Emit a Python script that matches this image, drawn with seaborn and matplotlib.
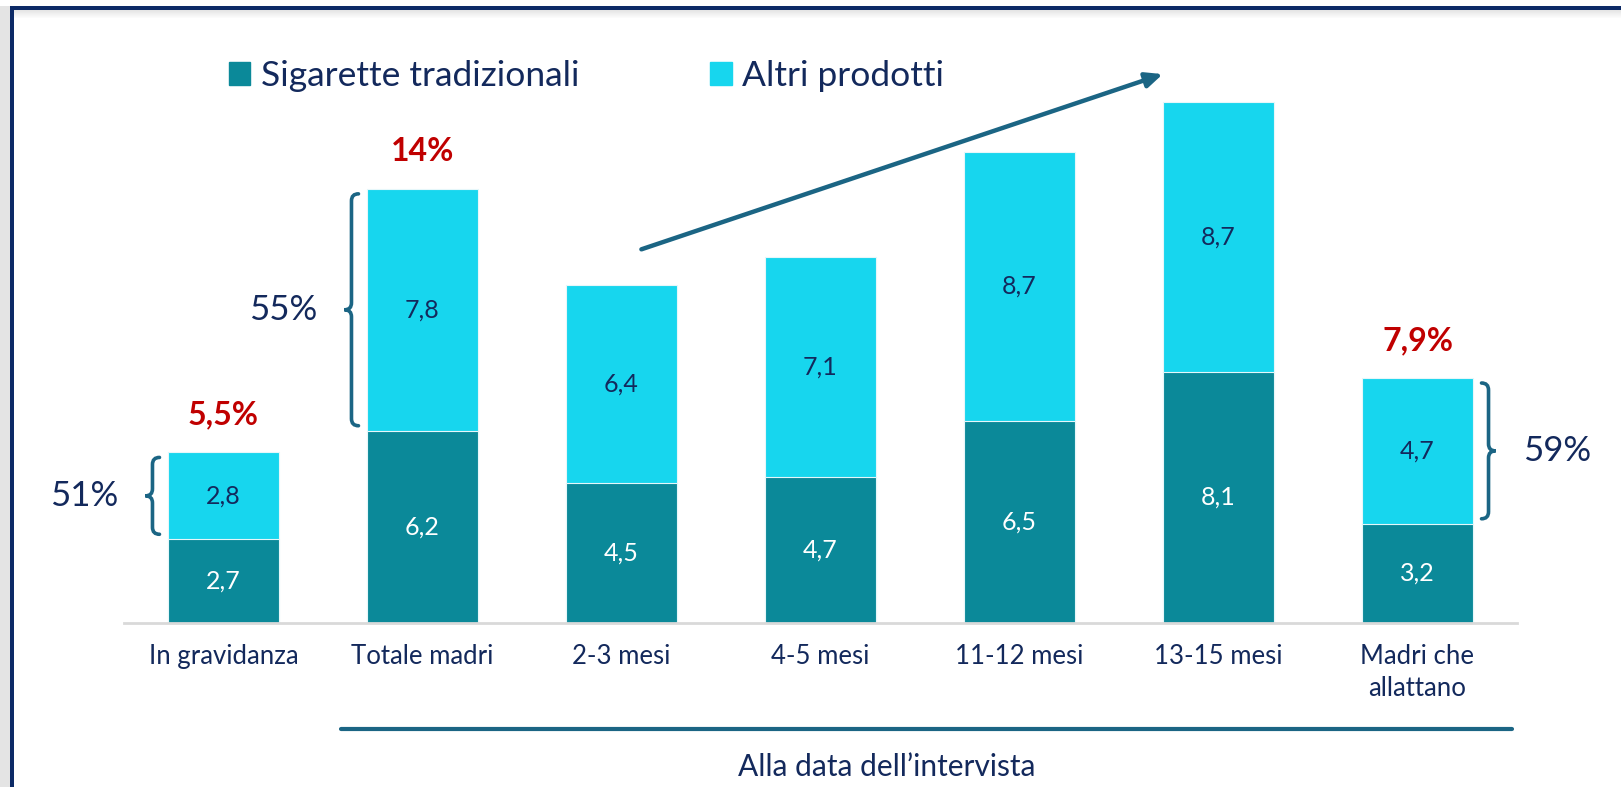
import numpy as np
import pandas as pd
import matplotlib
matplotlib.use("Agg")
import matplotlib.pyplot as plt
from matplotlib.path import Path
from matplotlib.patches import PathPatch, Rectangle
from matplotlib.transforms import IdentityTransform
import seaborn as sns

# ── Data ──────────────────────────────────────────────
categories   = ["In gravidanza", "Totale madri", "2-3 mesi", "4-5 mesi",
                "11-12 mesi", "13-15 mesi", "Madri che\nallattano"]
sigarette    = [2.7, 6.2, 4.5, 4.7, 6.5, 8.1, 3.2]
altri        = [2.8, 7.8, 6.4, 7.1, 8.7, 8.7, 4.7]
total_labels = {0: "5,5%", 1: "14%", 6: "7,9%"}
brace_labels = {0: ("51%", "left"), 1: ("55%", "left"), 6: ("59%", "right")}
series_names = ["Sigarette tradizionali", "Altri prodotti"]
group_label  = "Alla data dell\u2019intervista"

# ── Style ─────────────────────────────────────────────
TEAL  = "#0B8999"
CYAN  = "#17D6EE"
NAVY  = "#13295C"
RED   = "#C00000"
STEEL = "#1B6584"

sns.set_style("white")
plt.rcParams["font.family"] = ["Lato", "DejaVu Sans"]

df = pd.DataFrame({"cat": categories, "sig": sigarette, "altri": altri})
df["tot"] = df["sig"] + df["altri"]

W, H = 1621, 787
fig = plt.figure(figsize=(W / 100, H / 100), dpi=100)
ax = fig.add_axes([124 / W, 1 - 623 / H, 1393 / W, 583 / H])

# stacked bars: full height in cyan, lower segment in teal on top
sns.barplot(data=df, x="cat", y="tot", color=CYAN, width=0.553, saturation=1,
            edgecolor="#E6F7FA", linewidth=0.8, ax=ax)
sns.barplot(data=df, x="cat", y="sig", color=TEAL, width=0.553, saturation=1,
            edgecolor="#E6F7FA", linewidth=0.8, ax=ax)

ax.set_xlim(-0.5, len(categories) - 0.5)
ax.set_ylim(0, 18.8)
ax.set_xlabel("")
ax.set_ylabel("")
ax.set_yticks([])
for s in ["top", "right", "left"]:
    ax.spines[s].set_visible(False)
ax.spines["bottom"].set_color("#D9D9D9")
ax.spines["bottom"].set_linewidth(2)
ax.tick_params(axis="x", length=0, pad=15, labelsize=18.5, labelcolor=NAVY)
for t in ax.get_xticklabels():
    t.set_linespacing(1.35)

# segment values
for i, r in df.iterrows():
    ax.text(i, r["sig"] / 2, f"{r['sig']:.1f}".replace(".", ","), ha="center",
            va="center", color="white", fontsize=18)
    ax.text(i, r["sig"] + r["altri"] / 2, f"{r['altri']:.1f}".replace(".", ","),
            ha="center", va="center", color=NAVY, fontsize=18)

# red totals
for i, lab in total_labels.items():
    ax.annotate(lab, (i, df["tot"][i]), xytext=(0, 27), textcoords="offset points",
                ha="center", va="center", color=RED, fontsize=23, fontweight="bold")

# curly braces around the "altri" segment, drawn in pixels
fig.canvas.draw()
half_w = 0.553 / 2


def brace(x_arm, x_tip, y0, y1):
    d = np.sign(x_tip - x_arm)
    w = abs(x_tip - x_arm)
    xm = x_arm + d * w * 0.5
    r = 7
    ym = (y0 + y1) / 2
    verts = [(x_arm, y1), (xm, y1), (xm, y1 - r),
             (xm, ym + r), (xm, ym), (x_tip, ym),
             (xm, ym), (xm, ym - r),
             (xm, y0 + r), (xm, y0), (x_arm, y0)]
    codes = [Path.MOVETO, Path.CURVE3, Path.CURVE3,
             Path.LINETO, Path.CURVE3, Path.CURVE3,
             Path.CURVE3, Path.CURVE3,
             Path.LINETO, Path.CURVE3, Path.CURVE3]
    return Path(verts, codes)


for i, (lab, side) in brace_labels.items():
    d = -1 if side == "left" else 1
    edge_x = i + d * half_w
    px0, py0 = ax.transData.transform((edge_x, df["sig"][i]))
    _, py1 = ax.transData.transform((edge_x, df["tot"][i]))
    x_arm = px0 + d * 9
    x_tip = x_arm + d * 14
    p = brace(x_arm, x_tip, py0 + 5, py1 - 5)
    fig.patches.append(PathPatch(p, fill=False, edgecolor=STEEL, lw=2.6,
                                 transform=IdentityTransform(), figure=fig,
                                 capstyle="round"))
    fig.text(x_tip + d * 27, (py0 + py1) / 2, lab, transform=IdentityTransform(),
             ha="right" if d < 0 else "left", va="center", color=NAVY, fontsize=25)

# trend arrow
ax.annotate("", xy=(4.72, 17.7), xytext=(2.1, 12.05),
            arrowprops=dict(arrowstyle="-|>,head_length=1.0,head_width=0.45",
                            color=STEEL, lw=3.2, shrinkA=0, shrinkB=0),
            annotation_clip=False)

# legend
handles = [Rectangle((0, 0), 1, 1, color=TEAL), Rectangle((0, 0), 1, 1, color=CYAN)]
fig.legend(handles, series_names, loc="center left",
           bbox_to_anchor=(229 / W, 1 - 76 / H), ncol=2, frameon=False,
           fontsize=25.5, handlelength=0.6, handleheight=0.6, handletextpad=0.3,
           columnspacing=3.7, borderaxespad=0, borderpad=0, labelcolor=NAVY)

# group line + caption
fig.add_artist(plt.Line2D([341 / W, 1512 / W], [1 - 729 / H, 1 - 729 / H],
                          color=STEEL, lw=3))
fig.text(887 / W, 1 - 767 / H, group_label, ha="center", va="center",
         color=NAVY, fontsize=21.5)

# frame: shadow + navy border on top and left
fig.add_artist(Rectangle((0, 0), 10 / W, 1 - 6 / H, transform=fig.transFigure,
                         color="#E4E4E4", lw=0))
for k in range(8):
    fig.add_artist(Rectangle((14 / W, 1 - (11 + k) / H), 1, 1 / H,
                             transform=fig.transFigure, lw=0,
                             color=(0.6, 0.6, 0.6, 0.25 * (1 - k / 8))))
fig.add_artist(Rectangle((10 / W, 1 - 10 / H), 1, 4 / H, transform=fig.transFigure,
                         color="#0D2A66", lw=0))
fig.add_artist(Rectangle((10 / W, 0), 4 / W, 1 - 6 / H, transform=fig.transFigure,
                         color="#0D2A66", lw=0))

fig.savefig("out.png", dpi=100)
